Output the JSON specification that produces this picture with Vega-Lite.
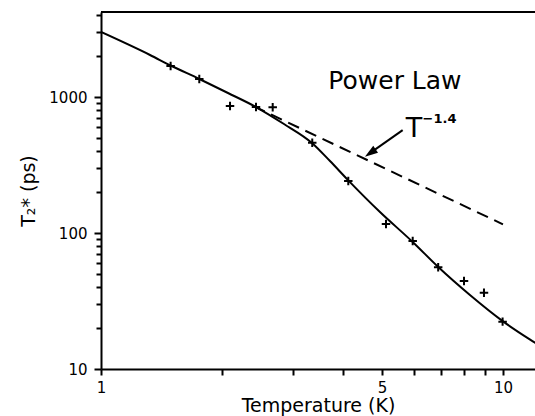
{
  "$schema": "https://vega.github.io/schema/vega-lite/v6.json",
  "width": 434,
  "height": 357,
  "autosize": "none",
  "padding": {"left": 101, "top": 12, "right": 0, "bottom": 47},
  "background": "white",
  "config": {
    "view": {"stroke": null},
    "font": "DejaVu Sans",
    "axis": {
      "grid": false,
      "domainColor": "black",
      "domainWidth": 2,
      "labelColor": "black",
      "labelFont": "DejaVu Sans",
      "labelFontSize": 15,
      "labelFlush": false,
      "labelOverlap": false,
      "titleColor": "black",
      "titleFont": "DejaVu Sans",
      "titleFontSize": 19,
      "titleFontWeight": "normal"
    }
  },
  "datasets": {
    "fit": [
      {"t": 1.0, "v": 3005},
      {"t": 1.3241, "v": 2036},
      {"t": 1.4908, "v": 1704},
      {"t": 1.7568, "v": 1356},
      {"t": 2.0697, "v": 1070},
      {"t": 2.4299, "v": 844},
      {"t": 2.8524, "v": 633},
      {"t": 3.3486, "v": 459},
      {"t": 3.7128, "v": 338},
      {"t": 4.1167, "v": 245},
      {"t": 4.9434, "v": 142.7},
      {"t": 5.9627, "v": 85.9},
      {"t": 6.9025, "v": 56.2},
      {"t": 8.2768, "v": 35.0},
      {"t": 9.9828, "v": 22.5},
      {"t": 12.015, "v": 15.6},
      {"t": 12.722, "v": 14.0}
    ],
    "power": [
      {"t": 2.4, "v": 854},
      {"t": 10.0, "v": 115.8}
    ],
    "meas": [
      {"t": 1.49, "v": 1690},
      {"t": 1.756, "v": 1356},
      {"t": 2.094, "v": 859},
      {"t": 2.43, "v": 845},
      {"t": 2.674, "v": 840},
      {"t": 3.354, "v": 461},
      {"t": 4.123, "v": 241},
      {"t": 5.117, "v": 116.5},
      {"t": 5.963, "v": 87.4},
      {"t": 6.9, "v": 56},
      {"t": 8.0, "v": 44.4},
      {"t": 8.97, "v": 36.4},
      {"t": 9.98, "v": 22.3}
    ],
    "arrow": [
      {"t": 5.63, "v": 571, "t2": 4.677, "v2": 388}
    ],
    "tip": [
      {"t": 4.536, "v": 364}
    ],
    "labels": [
      {"t": 5.386, "v": 1139, "text": "Power Law"},
      {"t": 6.005, "v": 511, "text": "T"},
      {"t": 6.31, "v": 641, "text": "−1.4"}
    ]
  },
  "layer": [
    {
      "data": {"name": "fit"},
      "mark": {"type": "line", "color": "black", "strokeWidth": 2, "interpolate": "monotone", "clip": true},
      "encoding": {
        "x": {
          "field": "t", "type": "quantitative", "title": "Temperature (K)",
          "scale": {"type": "log", "domain": [1, 12.015], "nice": false},
          "axis": {
            "values": [1, 2, 3, 4, 5, 6, 7, 8, 9, 10],
            "labelExpr": "datum.value == 1 ? '1' : datum.value == 5 ? '5' : datum.value == 10 ? '10' : ''",
            "ticks": true,
            "tickSize": 6,
            "tickWidth": 2,
            "tickColor": "black",
            "labelPadding": 5,
            "titlePadding": 1
          }
        },
        "y": {
          "field": "v", "type": "quantitative", "title": "T₂* (ps)",
          "scale": {"type": "log", "domain": [10, 4217], "nice": false},
          "axis": {
            "values": [10, 20, 30, 40, 50, 60, 70, 80, 90, 100, 200, 300, 400, 500, 600, 700, 800, 900, 1000, 2000, 3000, 4000],
            "labelExpr": "datum.value == 10 ? '10' : datum.value == 100 ? '100' : datum.value == 1000 ? '1000' : ''",
            "ticks": true,
            "tickSize": {"condition": {"test": "indexof([10,100,1000], datum.value) >= 0", "value": 7}, "value": 5},
            "tickWidth": 2,
            "tickColor": "black",
            "labelPadding": 7,
            "titlePadding": 10
          }
        }
      }
    },
    {
      "data": {"name": "power"},
      "mark": {"type": "line", "color": "black", "strokeWidth": 2, "strokeDash": [12, 7]},
      "encoding": {
        "x": {"field": "t", "type": "quantitative"},
        "y": {"field": "v", "type": "quantitative"}
      }
    },
    {
      "data": {"name": "meas"},
      "mark": {"type": "point", "shape": "M-1,0L1,0M0,-1L0,1", "size": 72, "filled": false, "stroke": "black", "strokeWidth": 2, "opacity": 1},
      "encoding": {
        "x": {"field": "t", "type": "quantitative"},
        "y": {"field": "v", "type": "quantitative"}
      }
    },
    {
      "data": {"name": "arrow"},
      "mark": {"type": "rule", "color": "black", "strokeWidth": 2},
      "encoding": {
        "x": {"field": "t", "type": "quantitative"},
        "y": {"field": "v", "type": "quantitative"},
        "x2": {"field": "t2"},
        "y2": {"field": "v2"}
      }
    },
    {
      "data": {"name": "tip"},
      "mark": {"type": "point", "shape": "M0,0L-0.32,1L0.32,1Z", "size": 680, "filled": true, "fill": "black", "strokeWidth": 0, "opacity": 1, "angle": 235},
      "encoding": {
        "x": {"field": "t", "type": "quantitative"},
        "y": {"field": "v", "type": "quantitative"}
      }
    },
    {
      "data": {"name": "labels"},
      "transform": [{"filter": "datum.text == 'Power Law'"}],
      "mark": {"type": "text", "fontSize": 25, "align": "center", "baseline": "alphabetic", "color": "black", "font": "DejaVu Sans"},
      "encoding": {
        "x": {"field": "t", "type": "quantitative"},
        "y": {"field": "v", "type": "quantitative"},
        "text": {"field": "text"}
      }
    },
    {
      "data": {"name": "labels"},
      "transform": [{"filter": "datum.text == 'T'"}],
      "mark": {"type": "text", "fontSize": 27, "align": "center", "baseline": "alphabetic", "color": "black", "font": "DejaVu Sans"},
      "encoding": {
        "x": {"field": "t", "type": "quantitative"},
        "y": {"field": "v", "type": "quantitative"},
        "text": {"field": "text"}
      }
    },
    {
      "data": {"name": "labels"},
      "transform": [{"filter": "datum.text == '−1.4'"}],
      "mark": {"type": "text", "fontSize": 13, "fontWeight": "bold", "align": "left", "baseline": "alphabetic", "color": "black", "font": "DejaVu Sans"},
      "encoding": {
        "x": {"field": "t", "type": "quantitative"},
        "y": {"field": "v", "type": "quantitative"},
        "text": {"field": "text"}
      }
    },
    {
      "data": {"name": "power"},
      "mark": {"type": "rule", "color": "black", "strokeWidth": 2},
      "encoding": {
        "y": {"datum": 4217, "type": "quantitative"}
      }
    }
  ]
}
